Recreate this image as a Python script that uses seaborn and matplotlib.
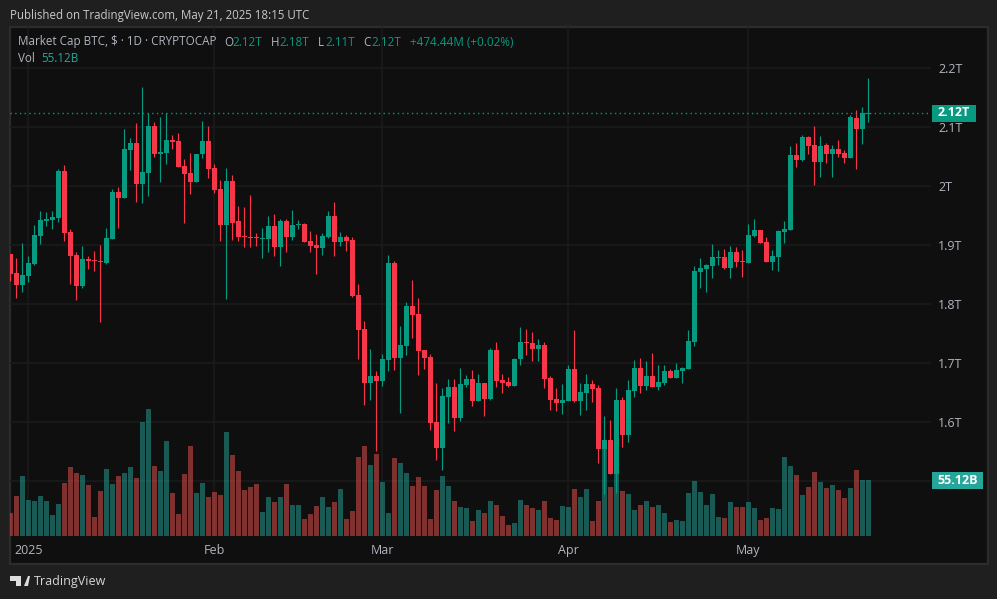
import matplotlib
matplotlib.use("Agg")
import matplotlib.pyplot as plt
from matplotlib.patches import Rectangle, Polygon, Circle
import numpy as np
import pandas as pd
import seaborn as sns

# values in billions of USD
opens = [1885.3,1853,1832.7,1848,1868.3,1915.8,1941.2,1942.9,1946.3,2026,
 1922.6,1883.6,1831,1876.8,1875.1,1873.4,1870,1910.7,1990.4,1980.2,
 2061.5,2073.4,2004,2022.6,2102.2,2054.8,2056.5,2078.5,2076.8,2034.4,
 2022.6,2007.3,2054.8,2076.8,2031,1995.4,1934.5,2009,1941.3,1915.8,
 1914.1,1914.1,1910.7,1910.7,1932.8,1897.2,1941.3,1914.1,1934.5,1936.2,
 1907.4,1900.6,1895.5,1914.1,1949.7,1905.7,1914.1,1909,1815.8,1758.2,
 1666.7,1678.5,1670,1705.6,1870,1709,1729.4,1797.2,1783.6,1722.6,
 1710.7,1600.6,1556.5,1642.9,1659.9,1607.3,1663.3,1673.4,1636.2,1666.7,
 1639.5,1722.6,1671.7,1668.4,1661.6,1707.3,1736.2,1734.5,1724.3,1731.1,
 1675.1,1639.5,1632.8,1636.2,1690.4,1636.2,1649.7,1665,1658.2,1554.8,
 1570,1512.4,1637.9,1578.5,1653.1,1692,1661.5,1678.5,1659.8,1666.6,
 1687,1675.1,1687,1690.3,1736.1,1854.8,1859.8,1864.9,1878.5,1880.2,
 1861.5,1888.7,1873.4,1870,1915.8,1926,1905.6,1871.7,1880.2,1922.6,
 1926,2053,2044.6,2083.6,2070,2041.2,2070,2054.8,2063.2,2056.5,
 2048,2115.8,2097.1,2122.6]
closes = [1851.4,1832.7,1849.7,1870,1917.5,1942.9,1944.6,1948,2026,1920.9,
 1881.9,1831,1876.8,1873.4,1873.4,1871.7,1912.4,1990.4,1980.2,2063.2,
 2073.4,2004,2024.3,2102.2,2054.8,2058.2,2078.5,2075.1,2032.7,2020.9,
 2007.3,2054.8,2076.8,2029.3,1993.8,1934.4,2009,1937.9,1914.1,1914.1,
 1912.4,1912.4,1912.4,1932.8,1897.2,1941.3,1914.1,1934.5,1936.2,1905.7,
 1898.9,1895.5,1915.8,1949.7,1905.7,1914.1,1907.4,1814.1,1756.5,1666.7,
 1678.5,1670,1707.3,1870,1709,1731.1,1797.2,1782,1720.9,1709,
 1598.9,1556.5,1644.6,1659.9,1607.3,1665,1673.4,1636.2,1666.7,1639.5,
 1722.6,1670,1666.7,1661.6,1707.3,1736.2,1734.5,1724.3,1731.1,1673.4,
 1637.9,1632.8,1637.9,1690.4,1636.2,1651.4,1665,1656.5,1554.8,1570,
 1512.4,1637.9,1578.5,1654.8,1692.1,1661.5,1678.5,1659.8,1668.3,1687,
 1675.1,1688.7,1692,1737.8,1856.5,1861.5,1866.6,1880.2,1880.2,1861.5,
 1888.7,1871.7,1871.7,1917.5,1926,1903.9,1871.7,1881.9,1924.3,1927.6,
 2053,2044.6,2083.6,2068.3,2041.2,2068.3,2054.8,2063.2,2054.8,2048,
 2117.5,2097.1,2124.3,2124.3]
highs = [1885.3,1878.5,1903.9,1881.9,1934.4,1958.2,1956.5,1958.2,2029.3,2036.1,
 1927.6,1888.7,1898.8,1881.9,1890.4,1900.5,1929.3,1995.5,1998.9,2097.2,
 2081.9,2107.3,2168.3,2124.3,2109,2117.5,2124.3,2087,2090.4,2046.3,
 2056.5,2054.8,2110.7,2102.2,2037.8,2010.7,2031,2019.2,1966.7,1965,
 1985.3,1920.9,1929.4,1949.7,1953.1,1944.6,1944.6,1959.9,1943,1937.9,
 1924.3,1919.2,1920.9,1958.2,1973.5,1922.6,1917.5,1914.1,1834.5,1771.8,
 1724.3,1687,1715.8,1883.6,1873.5,1763.3,1804,1841.2,1810.7,1722.6,
 1715.8,1666.7,1658.2,1673.4,1673.4,1692.1,1680.2,1688.7,1681.9,1666.7,
 1726,1736.2,1681.9,1676.8,1709,1761.6,1758.2,1753.1,1741.3,1736.2,
 1678.5,1658.2,1665,1697.2,1756.5,1666.7,1681.9,1671.7,1663.3,1610.7,
 1604,1658.2,1642.9,1671.7,1705.7,1709,1703.9,1717.5,1697.1,1697.1,
 1690.3,1700.5,1693.7,1756.4,1864.9,1878.5,1868.3,1902.2,1892,1893.7,
 1898.8,1897.1,1892,1936.1,1944.6,1926,1914.1,1892,1926,1941.2,
 2068.3,2073.4,2087,2085.3,2102.2,2085.3,2073.4,2070,2078.5,2061.5,
 2120.9,2129.3,2134.4,2183.6]
lows = [1839.5,1810.7,1820.9,1837.8,1866.6,1902.2,1932.7,1927.6,1939.5,1907.3,
 1834.4,1807.3,1827.6,1859.8,1856.4,1770,1868.3,1910.7,1929.3,1980.2,
 2027.7,1973.4,1971.7,1983.6,2049.7,2007.3,2037.8,2063.2,2032.7,1937.8,
 1987,2007.3,2048,2014.1,1988.7,1907.4,1809,1909,1907.4,1897.2,
 1897.2,1898.9,1878.5,1888.7,1881.9,1865,1888.7,1909,1927.7,1905.7,
 1888.7,1851.4,1883.6,1912.4,1881.9,1898.9,1890.4,1812.4,1707.3,1629.4,
 1637.9,1551.4,1661.6,1687,1688.7,1615.8,1714.1,1743,1680.2,1690.4,
 1587,1536.2,1519.2,1598.9,1585.3,1602.3,1659.9,1627.7,1636.2,1610.7,
 1637.9,1659.9,1649.7,1659.9,1661.6,1697.2,1714.1,1704,1704,1658.2,
 1620.9,1619.2,1614.1,1636.2,1634.5,1612.4,1620.9,1634.5,1531.1,1478.5,
 1512.4,1480.2,1558.2,1566.7,1642.9,1650,1655,1659.8,1654.7,1663.2,
 1675.1,1675.1,1666.6,1690.3,1729.3,1827.6,1820.9,1844.6,1866.6,1859.8,
 1844.6,1863.2,1846.3,1870,1914.1,1903.9,1871.7,1858.1,1856.4,1903.9,
 1926,2032.7,2042.9,2054.8,2002.2,2015.8,2039.5,2015.8,2049.7,2039.5,
 2048,2029.3,2071.7,2109]
volumes = [22.6,39.4,59,35.4,34.4,39.4,34.4,20.7,31.5,52.2,
 67.9,62,60,50.2,18.7,44.3,65.9,51.2,59,62,
 67.9,57.1,112.2,125,68.9,64,93.5,42.3,21.6,61,
 88.6,42.3,52.2,38.4,43.3,40.3,102.3,79.7,64,45.3,
 48.2,51.2,23.6,38.4,33.5,38.4,51.2,30.5,30.5,16.7,
 21.6,29.5,38.4,28.5,33.5,46.2,16.7,24.6,77.7,88.6,
 69.9,80.7,53.1,22.6,76.8,71.8,62,49.2,58.1,49.2,
 16.7,45.3,59,49.2,34.4,28.5,27.6,14.8,25.6,22.6,
 34.4,30.5,19.7,10.8,12.8,35.4,30.5,27.6,25.6,34.4,
 17.7,15.7,29.5,28.5,46.2,38.4,46.2,14.8,34.4,87.6,
 48.2,66,44.3,41.3,25.6,30.5,34.4,28.5,30.5,22.6,
 13.8,15.7,14.8,42.3,54.1,43.3,30.5,41.3,18.7,17.7,
 33.5,28.5,28.5,33.5,27.6,15.7,17.7,27.6,26.6,77.7,
 68.9,60,40.3,48.2,63,53.1,47.2,50.2,45.3,37.4,
 47.2,64.9,55.1,55.1]
first_day = "2024-12-29"
price_ticks = [1500, 1600, 1700, 1800, 1900, 2000, 2100, 2200]
price_labels = ["", "1.6T", "1.7T", "1.8T", "1.9T", "2T", "2.1T", "2.2T"]
month_days = ["2025-01-01", "2025-02-01", "2025-03-01", "2025-04-01", "2025-05-01"]
month_labels = ["2025", "Feb", "Mar", "Apr", "May"]
last_price = 2123.7
last_volume = 55.12

UP, DOWN = "#089981", "#F7364A"
VOL_UP, VOL_DOWN = "#26a69a", "#ef5350"
BG, PANEL, EDGE, GRID = "#1f1f1f", "#0f0f0f", "#2c2c2c", "#1b1b1b"
TXT = "#b2b5be"
FONT = "Open Sans"

sns.set_theme(style="dark")
plt.rcParams["font.family"] = [FONT, "DejaVu Sans"]

W, H = 997, 599
fig = plt.figure(figsize=(W / 100, H / 100), dpi=100, facecolor=BG)


def fx(px):
    return px / W


def fy(py):
    return 1 - py / H


def ftext(px, py, s, color=TXT, size=8.6, ha="left", **kw):
    return fig.text(fx(px), fy(py), s, color=color, fontsize=size, ha=ha, va="center", **kw)


fig.patches.append(Rectangle((fx(9.5), fy(563.5)), 978 / W, 537 / H, transform=fig.transFigure,
                             facecolor=PANEL, edgecolor=EDGE, linewidth=1.6, figure=fig, zorder=-1))

dates = pd.date_range(first_day, periods=len(opens))
df = pd.DataFrame({"day": np.arange(len(opens)), "open": opens, "high": highs, "low": lows,
                   "close": closes, "volume": volumes})
df["dir"] = np.where(df["close"] >= df["open"], "up", "down")
month_pos = [int(np.where(dates == pd.Timestamp(d))[0][0]) for d in month_days]

rect = [fx(10), fy(536), 921 / W, 509 / H]
xlim = (-0.05, 153.45)
ylim = (1407.3, 2270.0)
vol_ylim = (0, 500.9)

# layer 1: grid and axis labels
ax_bg = fig.add_axes(rect, facecolor="none")
ax_bg.set_xlim(xlim)
ax_bg.set_ylim(ylim)
ax_bg.yaxis.tick_right()
ax_bg.set_yticks(price_ticks, price_labels)
ax_bg.set_xticks(month_pos, month_labels)
ax_bg.grid(True, color=GRID, linewidth=1.1)
ax_bg.tick_params(axis="y", length=0, pad=5, labelcolor=TXT, labelsize=9)
ax_bg.tick_params(axis="x", length=0, pad=6, labelcolor=TXT, labelsize=9)
for s in ax_bg.spines.values():
    s.set_visible(False)

# layer 2: volume
ax_vol = fig.add_axes(rect, facecolor="none")
sns.barplot(data=df, x="day", y="volume", hue="dir", palette={"up": VOL_UP, "down": VOL_DOWN},
            native_scale=True, dodge=False, width=0.83, alpha=0.5, saturation=1,
            legend=False, linewidth=0, ax=ax_vol)
ax_vol.set_xlim(xlim)
ax_vol.set_ylim(vol_ylim)
ax_vol.axis("off")

# layer 3: candles
ax = fig.add_axes(rect, facecolor="none")
for key, col in (("up", UP), ("down", DOWN)):
    d = df[df["dir"] == key]
    ax.vlines(d["day"], d["low"], d["high"], color=col, linewidth=0.85)
    ax.bar(d["day"], (d["close"] - d["open"]).abs().clip(lower=1.7),
           bottom=d[["open", "close"]].min(axis=1), width=0.83, color=col, linewidth=0)
ax.axhline(last_price, color=UP, linewidth=1, linestyle=(0, (1, 2.4)))
ax.set_xlim(xlim)
ax.set_ylim(ylim)
ax.axis("off")

# price and volume tags
for x0, x1, y0, y1, col, s in ((932, 976, 105, 122, UP, "2.12T"),
                               (932, 983, 472, 489, VOL_UP, f"{last_volume:.2f}B")):
    fig.patches.append(Rectangle((fx(x0), fy(y1)), (x1 - x0) / W, (y1 - y0) / H,
                                 transform=fig.transFigure, facecolor=col, edgecolor="none", figure=fig))
    ftext((x0 + x1) / 2, (y0 + y1) / 2 - 0.5, s, color="white", ha="center", fontweight="bold", size=9)

# header and legend
ftext(10, 15, "Published on TradingView.com, May 21, 2025 18:15 UTC", color="#c9c9c9", size=8.3)
ftext(18, 42, "Market Cap BTC, $ · 1D · CRYPTOCAP", size=8.4)
for x, s in ((224, "O"), (271, "H"), (318, "L"), (363, "C")):
    ftext(x, 42, s, size=8.4)
for x, s in ((232, "2.12T"), (279, "2.18T"), (325, "2.11T"), (371, "2.12T"), (410, "+474.44M (+0.02%)")):
    ftext(x, 42, s, color=UP, size=8.4)
ftext(18, 58, "Vol", size=8.4)
ftext(41, 58, "55.12B", color=VOL_UP, size=8.4)

# footer
for pts in ([(10, 576), (21, 576), (21, 586), (16, 586), (16, 581), (10, 581)],
            [(24, 586), (28, 576), (30, 576), (28, 586)]):
    fig.patches.append(Polygon([(fx(a), fy(b)) for a, b in pts], transform=fig.transFigure,
                               facecolor="#dddddd", edgecolor="none", figure=fig))
ftext(33.5, 581, "TradingView", color="#d6d6d6", size=9.0)

fig.savefig("out.png", dpi=100, facecolor=BG)
